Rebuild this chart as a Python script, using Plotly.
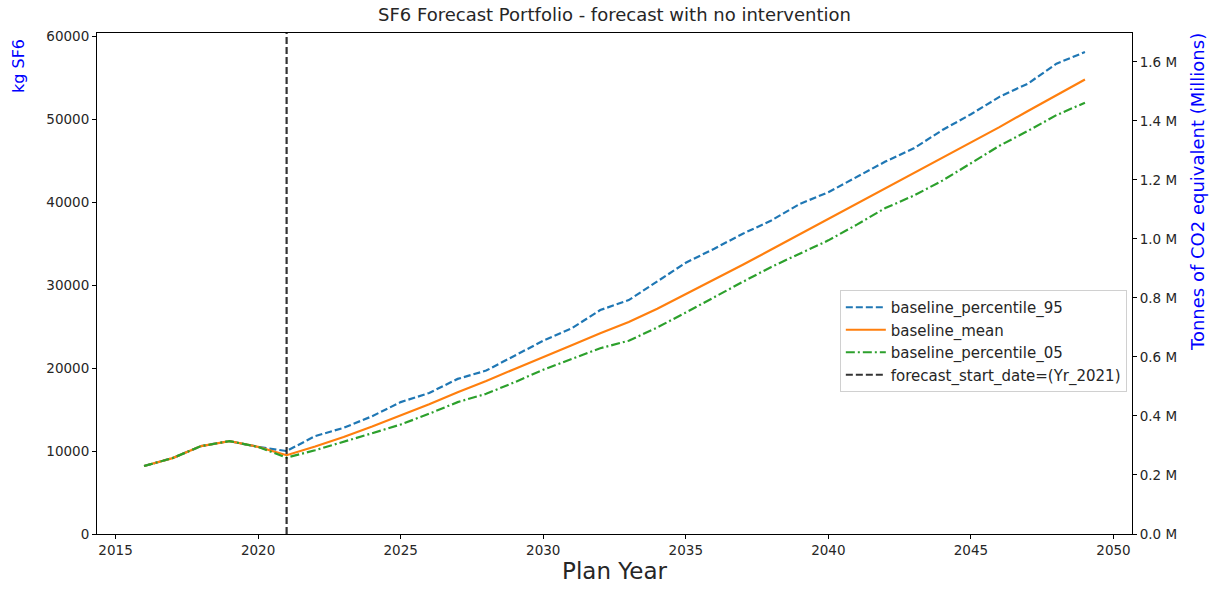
import plotly.graph_objects as go

# plan years and forecast series (kg SF6)
years = list(range(2016, 2050))

baseline_percentile_95 = [
    8200, 9150, 10600, 11200, 10500, 10000,
    11800, 12800, 14200, 15900, 17000, 18700, 19700, 21500, 23300, 24800,
    27000, 28200, 30400, 32700, 34400, 36200, 37800, 39800, 41200, 43000,
    44900, 46500, 48700, 50600, 52700, 54300, 56700, 58100,
]
baseline_mean = [
    8200, 9150, 10600, 11200, 10500, 9500,
    10550, 11700, 12950, 14300, 15650, 17100, 18450, 19900, 21300, 22750,
    24200, 25550, 27150, 28900, 30650, 32450, 34300, 36150, 38000, 39850,
    41650, 43450, 45300, 47200, 49050, 51000, 52950, 54800,
]
baseline_percentile_05 = [
    8200, 9150, 10600, 11200, 10500, 9200,
    10100, 11100, 12150, 13200, 14500, 15900, 16900, 18300, 19800, 21100,
    22400, 23300, 24900, 26700, 28600, 30400, 32200, 33800, 35400, 37300,
    39300, 40800, 42600, 44700, 46800, 48600, 50500, 52000,
]

forecast_start = 2021
kg_range = [0, 60400]
co2_range = [0, 1.698e6]
co2_ticks = [0, 2e5, 4e5, 6e5, 8e5, 1.0e6, 1.2e6, 1.4e6, 1.6e6]
co2_labels = [f"{v / 1e6:.1f} M" for v in co2_ticks]

FONT = "DejaVu Sans"
TXT = "#262626"

fig = go.Figure()
fig.add_trace(go.Scatter(x=years, y=baseline_percentile_95, mode="lines", name="baseline_percentile_95",
                         line=dict(color="#1f77b4", width=2.2, dash="7px,3px")))
fig.add_trace(go.Scatter(x=years, y=baseline_mean, mode="lines", name="baseline_mean",
                         line=dict(color="#ff7f0e", width=2.2)))
fig.add_trace(go.Scatter(x=years, y=baseline_percentile_05, mode="lines", name="baseline_percentile_05",
                         line=dict(color="#2ca02c", width=2.2, dash="9px,3px,2px,3px")))
fig.add_trace(go.Scatter(x=[forecast_start, forecast_start], y=kg_range, mode="lines",
                         name=f"forecast_start_date=(Yr_{forecast_start})",
                         line=dict(color="rgba(0,0,0,0.8)", width=2.2, dash="7px,3px")))
# invisible trace so the secondary axis is drawn
fig.add_trace(go.Scatter(x=[years[0]], y=[0], yaxis="y2", mode="lines", showlegend=False,
                         hoverinfo="skip", line=dict(color="rgba(0,0,0,0)")))

axis_common = dict(showline=True, linecolor="black", linewidth=1, ticks="outside", ticklen=4,
                   tickcolor="black", showgrid=False, zeroline=False,
                   tickfont=dict(family=FONT, size=13.5, color=TXT))

fig.update_layout(
    width=1222, height=591,
    margin=dict(l=97, r=90, t=33, b=57),
    plot_bgcolor="white", paper_bgcolor="white",
    font=dict(family=FONT, color=TXT),
    title=dict(text="SF6 Forecast Portfolio - forecast with no intervention", x=0.5, xanchor="center",
               xref="paper", yref="container", y=1 - 15 / 591, yanchor="middle",
               font=dict(family=FONT, size=18, color=TXT)),
    xaxis=dict(range=[2014.35, 2050.65], tickvals=list(range(2015, 2051, 5)), mirror=True,
               title=dict(text="Plan Year", font=dict(family=FONT, size=23, color=TXT), standoff=5),
               **axis_common),
    yaxis=dict(range=kg_range, tickvals=list(range(0, 60001, 10000)), tickformat="d", mirror=True,
               **axis_common),
    yaxis2=dict(range=co2_range, overlaying="y", side="right", tickvals=co2_ticks, ticktext=co2_labels,
                **axis_common),
    legend=dict(x=0.995, xanchor="right", y=0.487, yanchor="top", bgcolor="rgba(255,255,255,0.8)",
                bordercolor="#d0d0d0", borderwidth=1, font=dict(family=FONT, size=15, color=TXT),
                tracegroupgap=0, itemwidth=40),
    showlegend=True,
)

fig.add_annotation(text="kg SF6", xref="paper", yref="paper", x=0, y=1, xshift=-79, yshift=-4,
                   textangle=-90, xanchor="center", yanchor="top", showarrow=False,
                   font=dict(family=FONT, size=16, color="blue"))
fig.add_annotation(text="Tonnes of CO2 equivalent (Millions)", xref="paper", yref="paper", x=1, y=1,
                   xshift=65, yshift=2, textangle=-90, xanchor="center", yanchor="top", showarrow=False,
                   font=dict(family=FONT, size=18, color="blue"))

# drop the default body margin so the figure fills the window exactly
fig.write_html("out.html", config={"displayModeBar": False},
               post_script="document.body.style.margin='0';")
